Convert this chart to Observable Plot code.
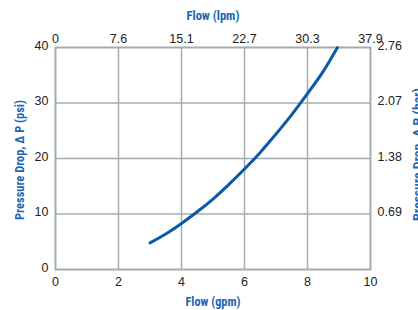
<!DOCTYPE html>
<html>
<head>
<meta charset="utf-8">
<script src="https://cdn.jsdelivr.net/npm/d3@7"></script>
<script src="https://cdn.jsdelivr.net/npm/@observablehq/plot@0.6"></script>
<style>
  html, body { margin: 0; padding: 0; background: #fff; }
  svg { display: block; }
</style>
</head>
<body>
<div id="chart"></div>
<script>
// Data
const flowGpm = [3.0, 3.5, 4.0, 4.5, 5.0, 5.5, 6.0, 6.5, 7.0, 7.5, 8.0, 8.5, 8.95];
const dropPsi = [4.8, 6.4, 8.3, 10.4, 12.7, 15.3, 18.1, 21.1, 24.4, 27.9, 31.7, 35.7, 40.0];

const gpmTicks = [0, 2, 4, 6, 8, 10];
const lpmLabels = ["0", "7.6", "15.1", "22.7", "30.3", "37.9"];
const psiTicks = [0, 10, 20, 30, 40];
const barTicks = [10, 20, 30, 40];
const barLabels = ["0.69", "1.38", "2.07", "2.76"];

const xTitle = "Flow (gpm)";
const x2Title = "Flow (lpm)";
const yTitle = "Pressure Drop, Δ P (psi)";
const y2Title = "Pressure Drop, Δ P (bar)";

const data = flowGpm.map((x, i) => ({x, y: dropPsi[i]}));

const blue = "#0b5aa6";
const titleBlue = "#2166b0";
const gridColor = "#a4acb2";
const titleFont = "'Liberation Sans Narrow', 'Arial Narrow', 'Roboto Condensed', sans-serif";

const titleOpts = {
  fontFamily: titleFont, fontWeight: "bold", fontSize: 12.5, fill: titleBlue,
  textAnchor: "middle", lineAnchor: "middle"
};

const chart = Plot.plot({
  width: 418,
  height: 310,
  marginLeft: 55,
  marginRight: 48,
  marginTop: 47,
  marginBottom: 41,
  style: {fontFamily: "'Liberation Sans', Arial, sans-serif", fontSize: "12.5px", color: "#222", background: "#fff"},
  x: {domain: [0, 10]},
  y: {domain: [0, 40]},
  marks: [
    Plot.gridX(gpmTicks.slice(1, -1), {stroke: gridColor, strokeOpacity: 1, strokeWidth: 1.5}),
    Plot.gridY(psiTicks.slice(1, -1), {stroke: gridColor, strokeOpacity: 1, strokeWidth: 1.5}),
    Plot.frame({stroke: gridColor, strokeWidth: 2}),
    Plot.line(data, {x: "x", y: "y", curve: "natural", stroke: blue, strokeWidth: 3}),
    Plot.axisX(gpmTicks, {anchor: "bottom", tickSize: 0, tickPadding: 7.5, label: null, fill: "#222"}),
    Plot.axisX(gpmTicks, {anchor: "top", tickSize: 0, tickPadding: 5, label: null, fill: "#222",
      tickFormat: (d) => lpmLabels[gpmTicks.indexOf(d)]}),
    Plot.axisY(psiTicks, {anchor: "left", tickSize: 0, tickPadding: 7, dy: -2, label: null, fill: "#222"}),
    Plot.axisY(barTicks, {anchor: "right", tickSize: 0, tickPadding: 7, dy: -2, label: null, fill: "#222",
      tickFormat: (d) => barLabels[barTicks.indexOf(d)]}),
    Plot.text([xTitle], {...titleOpts, frameAnchor: "bottom", dy: 32, className: "ttl-x"}),
    Plot.text([x2Title], {...titleOpts, frameAnchor: "top", dy: -32, className: "ttl-x2"}),
    Plot.text([yTitle], {...titleOpts, frameAnchor: "left", dx: -36, dy: 1.5, rotate: -90, className: "ttl-y"}),
    Plot.text([y2Title], {...titleOpts, frameAnchor: "right", dx: 47.5, dy: -4, rotate: -90, className: "ttl-y2"})
  ]
});
document.getElementById("chart").appendChild(chart);

// condense the axis titles to the reference's widths
const fit = {"ttl-x": 55, "ttl-x2": 53, "ttl-y": 120, "ttl-y2": 133};
for (const [cls, len] of Object.entries(fit)) {
  d3.select(chart).selectAll(`.${cls} text`).attr("textLength", len).attr("lengthAdjust", "spacingAndGlyphs");
}
</script>
</body>
</html>
